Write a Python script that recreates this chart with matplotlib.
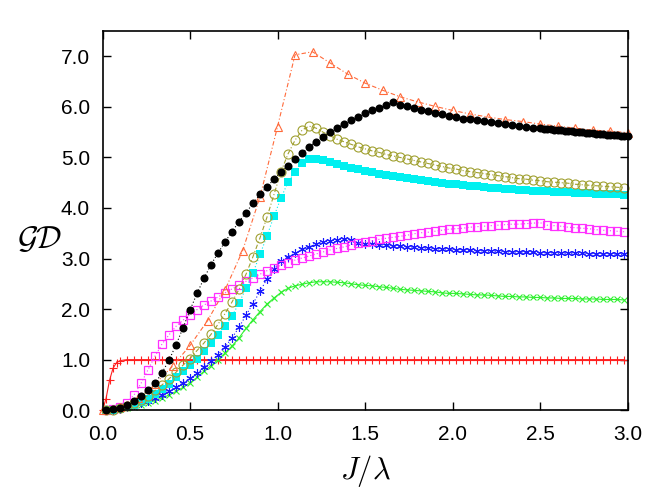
import numpy as np
import matplotlib
matplotlib.use('Agg')
import matplotlib.pyplot as plt

plt.rcParams['font.family'] = ['Liberation Sans', 'DejaVu Sans']
plt.rcParams['mathtext.fontset'] = 'cm'

# common grid for most curves
x = np.arange(0.02, 3.0, 0.04)

red_x = np.concatenate([[0.0, 0.02, 0.04, 0.06, 0.08, 0.10], np.arange(0.14, 3.0, 0.04)])
red_y = [0.0, 0.23, 0.59, 0.83, 0.94, 0.98] + [1.0] * 72

green_y = [0.00, 0.01, 0.02, 0.04, 0.07, 0.10, 0.14, 0.19, 0.24, 0.30,
           0.37, 0.45, 0.54, 0.65, 0.77, 0.88, 1.00, 1.13, 1.27, 1.43,
           1.62, 1.79, 1.95, 2.10, 2.22, 2.33, 2.41, 2.46, 2.49, 2.52,
           2.54, 2.54, 2.54, 2.53, 2.52, 2.50, 2.48, 2.47, 2.46, 2.44,
           2.43, 2.41, 2.39, 2.38, 2.37, 2.36, 2.35, 2.34, 2.32, 2.31,
           2.31, 2.30, 2.29, 2.28, 2.28, 2.27, 2.26, 2.25, 2.25, 2.24,
           2.24, 2.23, 2.23, 2.22, 2.22, 2.21, 2.21, 2.21, 2.20, 2.20,
           2.20, 2.19, 2.19, 2.19, 2.18]

blue_y = [0.00, 0.01, 0.03, 0.06, 0.10, 0.14, 0.19, 0.25, 0.31, 0.38,
          0.46, 0.54, 0.63, 0.73, 0.85, 0.97, 1.10, 1.25, 1.43, 1.64,
          1.88, 2.11, 2.35, 2.60, 2.80, 2.95, 3.04, 3.11, 3.18, 3.23,
          3.28, 3.32, 3.35, 3.37, 3.39, 3.36, 3.30, 3.29, 3.28, 3.27,
          3.26, 3.25, 3.24, 3.23, 3.22, 3.21, 3.20, 3.19, 3.19, 3.18,
          3.17, 3.17, 3.16, 3.15, 3.15, 3.14, 3.14, 3.13, 3.13, 3.12,
          3.12, 3.12, 3.11, 3.11, 3.11, 3.10, 3.10, 3.10, 3.10, 3.09,
          3.09, 3.09, 3.09, 3.08, 3.08]

magenta_y = [0.00, 0.02, 0.06, 0.15, 0.30, 0.53, 0.80, 1.07, 1.31, 1.49,
             1.66, 1.78, 1.89, 1.99, 2.08, 2.16, 2.24, 2.32, 2.40, 2.47,
             2.55, 2.62, 2.69, 2.76, 2.81, 2.87, 2.92, 2.97, 3.01, 3.05,
             3.09, 3.13, 3.17, 3.20, 3.23, 3.27, 3.30, 3.33, 3.35, 3.38,
             3.40, 3.42, 3.44, 3.46, 3.49, 3.51, 3.52, 3.54, 3.56, 3.58,
             3.59, 3.60, 3.62, 3.63, 3.64, 3.65, 3.66, 3.67, 3.68, 3.68,
             3.69, 3.70, 3.71, 3.66, 3.65, 3.64, 3.62, 3.61, 3.60, 3.59,
             3.57, 3.56, 3.55, 3.54, 3.53]

cyan_y = [0.00, 0.01, 0.03, 0.06, 0.10, 0.16, 0.23, 0.32, 0.41, 0.52,
          0.65, 0.78, 0.89, 1.02, 1.17, 1.32, 1.49, 1.66, 1.86, 2.12,
          2.41, 2.72, 3.08, 3.45, 3.84, 4.20, 4.51, 4.72, 4.89, 4.96,
          4.97, 4.95, 4.90, 4.87, 4.83, 4.80, 4.77, 4.74, 4.71, 4.68,
          4.66, 4.64, 4.61, 4.59, 4.57, 4.55, 4.53, 4.52, 4.50, 4.48,
          4.47, 4.45, 4.44, 4.43, 4.41, 4.40, 4.39, 4.38, 4.37, 4.36,
          4.35, 4.34, 4.34, 4.33, 4.32, 4.31, 4.31, 4.30, 4.29, 4.29,
          4.28, 4.28, 4.27, 4.27, 4.26]

olive_y = [0.00, 0.01, 0.04, 0.08, 0.14, 0.21, 0.29, 0.39, 0.50, 0.62,
           0.75, 0.89, 1.02, 1.18, 1.33, 1.50, 1.70, 1.91, 2.14, 2.39,
           2.69, 3.04, 3.41, 3.82, 4.27, 4.72, 5.07, 5.34, 5.54, 5.62,
           5.58, 5.50, 5.43, 5.36, 5.31, 5.26, 5.21, 5.17, 5.13, 5.10,
           5.06, 5.03, 5.00, 4.97, 4.94, 4.91, 4.88, 4.85, 4.82, 4.79,
           4.77, 4.74, 4.72, 4.70, 4.68, 4.66, 4.64, 4.62, 4.60, 4.58,
           4.57, 4.55, 4.54, 4.52, 4.51, 4.50, 4.49, 4.47, 4.46, 4.45,
           4.44, 4.43, 4.42, 4.41, 4.40]

tri_x = np.arange(0.0, 3.01, 0.1)
tri_y = [0.00, 0.07, 0.25, 0.52, 0.87, 1.28, 1.77, 2.38, 3.15, 4.22,
         5.61, 7.03, 7.09, 6.87, 6.65, 6.47, 6.33, 6.20, 6.10, 6.01,
         5.93, 5.86, 5.80, 5.75, 5.71, 5.66, 5.62, 5.58, 5.54, 5.52, 5.49]

black_x = np.concatenate([np.arange(0.02, 2.51, 0.04), np.arange(2.52, 3.001, 0.02)])
black_y = [0.00, 0.02, 0.05, 0.11, 0.18, 0.28, 0.40, 0.53, 0.74, 0.99,
           1.29, 1.63, 1.98, 2.31, 2.61, 2.88, 3.11, 3.33, 3.53, 3.73,
           3.91, 4.09, 4.27, 4.42, 4.57, 4.71, 4.84, 4.96, 5.09, 5.21,
           5.31, 5.41, 5.50, 5.58, 5.66, 5.74, 5.80, 5.87, 5.93, 5.97,
           6.03, 6.09, 6.04, 6.01, 5.97, 5.93, 5.91, 5.88, 5.86, 5.82,
           5.80, 5.77, 5.76, 5.74, 5.72, 5.70, 5.68, 5.66, 5.64, 5.62,
           5.61, 5.59, 5.58,
           5.57, 5.56, 5.56, 5.55, 5.54, 5.54, 5.53, 5.52, 5.52, 5.51,
           5.50, 5.50, 5.49, 5.48, 5.48, 5.47, 5.46, 5.46, 5.45, 5.45,
           5.44, 5.44, 5.43, 5.43, 5.42]

xticks = [0.0, 0.5, 1.0, 1.5, 2.0, 2.5, 3.0]
yticks = [0.0, 1.0, 2.0, 3.0, 4.0, 5.0, 6.0, 7.0]

fig = plt.figure(figsize=(6.64, 4.93), dpi=100)
ax = fig.add_axes([0.1544, 0.168, 0.7907, 0.769])

lw = 0.8
ax.plot(red_x, red_y, color='#ff2020', lw=lw, marker='+', ms=6, mew=0.8, clip_on=False)
ax.plot(x, green_y, color='#30f030', lw=lw, marker='x', ms=5, mew=0.8, clip_on=False)
ax.plot(x, blue_y, color='#1a1aff', lw=lw, ls=(0, (1, 2)), marker=(6, 2, 0), ms=6, mew=0.8, clip_on=False)
ax.plot(x, magenta_y, color='#ff30ff', lw=lw, ls=(0, (1, 2)), marker='s', ms=6, mfc='none', mew=0.9, clip_on=False)
ax.plot(x, cyan_y, color='#00f0f0', lw=lw, ls=(0, (1, 2)), marker='s', ms=5.5, mew=0, clip_on=False)
ax.plot(x, olive_y, color='#a0a030', lw=lw, ls=(0, (4, 2, 1, 2)), marker='o', ms=6.5, mfc='none', mew=0.8, clip_on=False)
ax.plot(tri_x, tri_y, color='#ff6a3a', lw=lw, ls=(0, (4, 2, 1, 2)), marker='^', ms=6, mfc='none', mew=0.8, clip_on=False)
ax.plot(black_x, black_y, color='black', lw=lw, ls=(0, (1, 2)), marker='o', ms=5.8, mew=0, clip_on=False)

ax.set_xlim(0, 3.0)
ax.set_ylim(0, 7.5)
ax.set_xticks(xticks)
ax.set_yticks(yticks)
ax.set_xticklabels(['%.1f' % v for v in xticks])
ax.set_yticklabels(['%.1f' % v for v in yticks])
ax.tick_params(direction='in', top=True, right=True, length=6, width=1, labelsize=15)
ax.tick_params(axis='x', pad=11)
ax.tick_params(axis='y', pad=9)
for s in ax.spines.values():
    s.set_linewidth(1.2)

ax.set_xlabel(r'$J/\lambda$', fontsize=22, labelpad=6)
ax.set_ylabel(r'$\mathcal{GD}$', fontsize=23, rotation=0, va='center')
ax.yaxis.set_label_coords(-0.12, 0.45)

fig.savefig('out.png', dpi=100)
